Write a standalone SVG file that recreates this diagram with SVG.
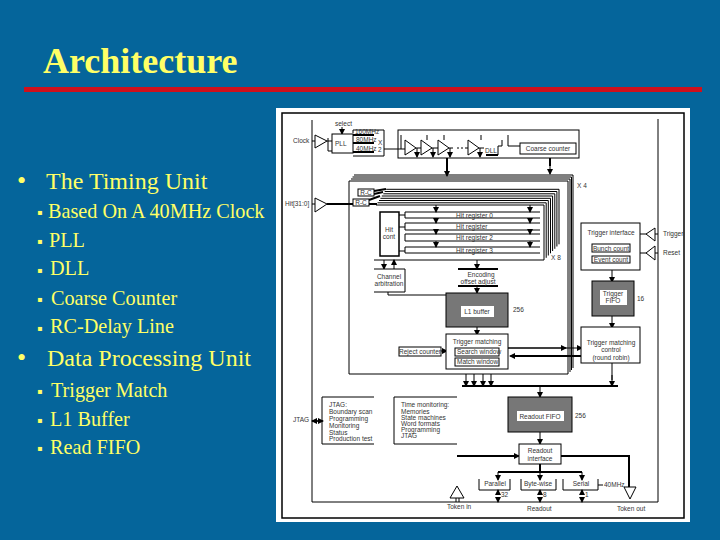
<svg xmlns="http://www.w3.org/2000/svg" width="720" height="540" viewBox="0 0 720 540">
<defs>
<marker id="a" markerUnits="userSpaceOnUse" markerWidth="6" markerHeight="6" refX="5" refY="3" orient="auto"><path d="M0 0L6 3L0 6Z" fill="#000"/></marker>
<style>
.ti{font-family:"Liberation Serif",serif;fill:#ffff66}
.h{font-size:24px}
.s{font-size:20.200px}
.m{font-size:8px;fill:#ffff66;font-family:"DejaVu Sans",sans-serif}
.t{font-family:"Liberation Sans",sans-serif;font-size:6.5px;fill:#333}
.c{text-anchor:middle}
.l{fill:none;stroke:#000;stroke-width:1}
.k{fill:none;stroke:#000;stroke-width:2}
.b{fill:#fff;stroke:#000;stroke-width:1}
.g{fill:#777;stroke:#000;stroke-width:1}
.w{fill:#fff}
.ar{fill:none;stroke:#000;stroke-width:1;marker-end:url(#a)}
</style>
</defs>
<rect width="720" height="540" fill="#05659b"/>
<text class="ti" x="43" y="73" font-size="36" font-weight="bold">Architecture</text>
<rect x="24" y="87" width="678" height="5" fill="#d0101c"/>
<g id="bullets">
<text class="ti" x="17" y="189" font-size="26">•</text>
<text class="ti h" x="46" y="189">The Timing Unit</text>
<text class="m" x="37" y="215">▪</text><text class="ti s" x="48" y="218">Based On A 40MHz Clock</text>
<text class="m" x="37" y="244">▪</text><text class="ti s" x="49" y="247">PLL</text>
<text class="m" x="37" y="273">▪</text><text class="ti s" x="50" y="275">DLL</text>
<text class="m" x="37" y="302">▪</text><text class="ti s" x="51" y="305">Coarse Counter</text>
<text class="m" x="37" y="331">▪</text><text class="ti s" x="50" y="333">RC-Delay Line</text>
<text class="ti" x="17" y="366" font-size="26">•</text>
<text class="ti h" x="47" y="366">Data Processing Unit</text>
<text class="m" x="37" y="394">▪</text><text class="ti s" x="51" y="397">Trigger Match</text>
<text class="m" x="37" y="423">▪</text><text class="ti s" x="50" y="426">L1 Buffer</text>
<text class="m" x="37" y="451">▪</text><text class="ti s" x="50" y="454">Read FIFO</text>
</g>
<rect x="276" y="108" width="414" height="414" fill="#fff"/>
<rect x="282" y="113" width="402" height="405" fill="#fff" stroke="#000" stroke-width="1.5"/>
<g id="connectors">
<path class="l" d="M312 120V502H658V119"/>
<path class="l" d="M312 141H315M327 141H332M384 149H398M353 133V130H384V156H353M328 138V151H332"/>
<path class="l" d="M312 204H315"/>
<path class="k" d="M327 204H353"/>
<path class="k" d="M369 204H377M374 191L386 189M374 194L383 192M369 200L380 196"/>
<path class="l" d="M374 260H544M399 215H405M399 227H405M399 251H405"/>
<path class="k" d="M447 158V174"/><path class="ar" d="M447 166V176"/>
<path class="k" d="M550 158V166"/><path class="ar" d="M550 158V174"/>
<path class="ar" d="M436 205V212"/><path class="ar" d="M436 218V223"/><path class="ar" d="M436 230V234"/><path class="ar" d="M436 241V247"/>
<path class="ar" d="M530 205V212"/><path class="ar" d="M530 218V223"/><path class="ar" d="M530 230V234"/><path class="ar" d="M530 241V247"/>
<path class="ar" d="M384 260V269"/><path class="ar" d="M394 269V260"/><path class="ar" d="M477 260V269"/>
<path class="ar" d="M477 286V293"/><path class="ar" d="M477 327V335"/>
<path class="l" d="M388 292V295H446"/>
<path class="ar" d="M441 351H447"/>
<path class="ar" d="M508 348H582"/><path class="ar" d="M508 348H566"/>
<path class="k" d="M581 356H512"/><path class="ar" d="M581 356H510"/>
<path class="ar" d="M612 270V282"/><path class="ar" d="M612 316V328"/>
<path class="l" d="M640 234H646M655 234H658M640 253H646M655 253H658M612 363V380"/>
<path class="k" d="M462 386H618"/>
<path class="ar" d="M466 374V386"/><path class="ar" d="M474 374V386"/><path class="ar" d="M483 374V386"/><path class="ar" d="M491 374V386"/><path class="ar" d="M612 375V386"/>
<path class="ar" d="M540 386V397"/><path class="ar" d="M540 432V444"/>
<path class="k" d="M457 456H515M561 456H629V487"/><path class="ar" d="M510 456H519"/>
<path class="k" d="M540 464V472M498 472H582"/>
<path class="ar" d="M498 472V480"/><path class="ar" d="M540 472V480"/><path class="ar" d="M582 472V480"/>
<path class="ar" d="M498 495V490"/><path class="ar" d="M498 497V502"/><path class="ar" d="M540 495V490"/><path class="ar" d="M540 497V502"/><path class="ar" d="M582 495V490"/><path class="ar" d="M582 497V502"/>
<path class="l" d="M598 485H603M312 421H322"/><path class="ar" d="M318 421H312"/><path class="ar" d="M316 421H323"/>
<path class="l" d="M456 498V502M459 498V502"/>
<path class="ar" d="M342 127V134"/>
</g>
<g id="stack-x4">
<path class="l" d="M349 374V181H568V374H349"/>
<path class="l" d="M351 179H570V372"/><path class="l" d="M352.500 177H571.500V370"/><path class="l" d="M354 175H573V368"/>
<text class="t" x="577" y="188">X 4</text>
</g>
<g id="stack-x8">
<path class="l" d="M376 205H544V260"/><path class="l" d="M377.500 202.800H546.200V257.800"/><path class="l" d="M379 200.500H548.300V255.500"/><path class="l" d="M380.400 198.300H550.500V253.300"/><path class="l" d="M381.800 196H552.600V251"/><path class="l" d="M383.300 193.800H554.800V248.800"/><path class="l" d="M384.700 191.500H556.900V246.500"/><path class="l" d="M386.200 189.300H559V244.300"/>
<text class="t" x="551" y="260">X 8</text>
</g>
<g id="clock-in"><path class="b" d="M315 135L327 141L315 148Z"/><text class="t" x="293" y="143">Clock</text></g>
<g id="hit-in"><path class="b" d="M315 198L327 204L315 212Z"/><text class="t" x="285" y="206">Hit[31:0]</text></g>
<g id="pll"><rect class="b" x="332" y="134" width="21" height="19"/><text class="t" x="335" y="146" font-size="8">PLL</text>
<text class="t" x="335" y="126" font-size="5">select</text>
<path class="k" d="M353 135H374M353 143H374M353 152H374"/>
<text class="t" x="355" y="133.500" font-size="5">160MHz</text><text class="t" x="356" y="141.500" font-size="5">80MHz</text><text class="t" x="356" y="150.500" font-size="5">40MHz</text>
<text class="t" x="378" y="145">X</text><text class="t" x="378" y="152">2</text></g>
<g id="delay"><rect class="l" x="398" y="130" width="181" height="28"/>
<path class="b" d="M405 140L416 148L405 155Z"/><path class="b" d="M421 140L432 148L421 155Z"/><path class="b" d="M438 140L449 148L438 155Z"/><path class="b" d="M468 140L479 148L468 155Z"/>
<path class="l" d="M398 149H405M416 148H421M432 148H438M449 148H453M457 148H459M461 148H463M465 148H468M479 148H484"/>
<path class="ar" d="M417 148V157"/><path class="ar" d="M433 148V157"/><path class="ar" d="M450 148V157"/><path class="ar" d="M480 148V157"/>
<path class="l" d="M401 135V149M427 140V135M444 140V135M481 140V135"/>
<text class="t" x="485" y="153" font-size="9">DLL</text>
<path class="k" d="M486 155H498"/><path class="l" d="M498 155V146H502V140M508 135V146H520"/>
</g>
<g id="coarse"><rect class="l" x="520" y="143" width="56" height="11"/><text class="t c" x="548" y="151">Coarse counter</text></g>
<g id="rc"><rect class="b" x="358" y="189" width="16" height="7"/><text class="t c" x="366" y="195">R-C</text></g>
<g id="rc2"><rect class="b" x="353" y="199" width="16" height="7"/><text class="t c" x="361" y="205">R-C</text></g>
<g id="hit-count"><rect x="380" y="212" width="19" height="44" fill="#fff" stroke="#000" stroke-width="1.500"/><text class="t c" x="389" y="232">Hit</text><text class="t c" x="389" y="239">cont</text></g>
<g id="reg0"><path class="l" d="M540 212H405V218H540"/><text class="t" x="456" y="218">Hit register 0</text></g>
<g id="reg1"><path class="l" d="M540 223H405V230H540"/><text class="t" x="456" y="229">Hit register</text></g>
<g id="reg2"><path class="l" d="M540 234H405V241H540"/><text class="t" x="456" y="240">Hit register 2</text></g>
<g id="reg3"><path class="l" d="M540 247H405V253H540"/><text class="t" x="456" y="253">Hit register 3</text></g>
<g id="channel"><path class="b" d="M374 269H405V292H374"/><text class="t c" x="389" y="279">Channel</text><text class="t c" x="389" y="286">arbitration</text></g>
<g id="encoding"><path class="k" d="M458 269H498M458 286H498" stroke-width="1.500"/><text class="t c" x="481" y="277">Encoding</text><text class="t c" x="478" y="284">offset adjust</text></g>
<g id="l1"><rect class="g" x="446" y="293" width="62" height="34"/><rect class="w" x="461" y="306" width="33" height="11"/><text class="t c" x="477" y="314">L1 buffer</text><text class="t" x="513" y="312">256</text></g>
<g id="hit-control"><rect class="b" x="446" y="334" width="62" height="35"/><text class="t c" x="477" y="344">Trigger matching</text>
<rect class="b" x="455" y="348" width="44" height="8"/><text class="t" x="457" y="354">Search window</text><rect class="b" x="455" y="358" width="44" height="8"/><text class="t" x="457" y="364">Match window</text></g>
<g id="reject"><rect class="b" x="399" y="347" width="42" height="9"/><text class="t c" x="420" y="354">Reject counter</text></g>
<g id="trig-if"><rect class="b" x="581" y="223" width="59" height="47"/><text class="t c" x="611" y="235">Trigger interface</text>
<rect class="b" x="592" y="244" width="38" height="8"/><text class="t c" x="611" y="250.500">Bunch count</text>
<rect class="b" x="592" y="256" width="38" height="7"/><text class="t c" x="611" y="262">Event count</text></g>
<g id="trig-in"><path class="b" d="M655 228L646 234L655 241Z"/><text class="t" x="663" y="236">Trigger</text></g>
<g id="reset-in"><path class="b" d="M655 246L646 253L655 260Z"/><text class="t" x="663" y="255">Reset</text></g>
<g id="trig-fifo"><rect class="g" x="592" y="281" width="42" height="35"/><rect class="w" x="600" y="290" width="27" height="15"/><text class="t c" x="613" y="296" font-size="5.500">Trigger</text><text class="t c" x="613" y="303" font-size="7">FIFO</text><text class="t" x="637" y="301">16</text></g>
<g id="trig-match"><rect class="b" x="581" y="327" width="59" height="36"/><text class="t c" x="611" y="345">Trigger matching</text><text class="t c" x="611" y="352">control</text><text class="t c" x="611" y="360">(round robin)</text></g>
<g id="jtag-box"><path class="l" d="M374 397H322V444H374"/><text class="t" x="329" y="407" font-size="7.500">JTAG:</text><text class="t" x="329" y="414">Boundary scan</text><text class="t" x="329" y="421">Programming</text><text class="t" x="329" y="428">Monitoring</text><text class="t" x="329" y="435">Status</text><text class="t" x="329" y="441">Production test</text></g>
<text class="t" x="293" y="422" id="jtag-label" font-size="7">JTAG</text>
<g id="time-box"><path class="l" d="M457 397H394V444H457"/><text class="t" x="401" y="407">Time monitoring:</text><text class="t" x="401" y="414">Memories</text><text class="t" x="401" y="420">State machines</text><text class="t" x="401" y="426">Word formats</text><text class="t" x="401" y="432">Programming</text><text class="t" x="401" y="438">JTAG</text></g>
<g id="read-fifo"><rect class="g" x="508" y="397" width="64" height="35"/><rect class="w" x="517" y="411" width="47" height="10"/><text class="t c" x="540" y="419">Readout FIFO</text><text class="t" x="575" y="418">256</text></g>
<g id="read-if"><rect class="b" x="519" y="444" width="42" height="20"/><text class="t c" x="540" y="453">Readout</text><text class="t c" x="540" y="461">interface</text></g>
<g id="parallel"><path class="l" d="M479 479V490H510V479"/><text class="t c" x="495" y="486">Parallel</text><text class="t" x="501" y="497" font-size="5">32</text></g>
<g id="byte"><path class="l" d="M521 479V490H556V479"/><text class="t c" x="538" y="486">Byte-wise</text><text class="t" x="543" y="497" font-size="5">8</text></g>
<g id="serial"><path class="l" d="M563 479V490H598V479"/><text class="t c" x="581" y="486">Serial</text><text class="t" x="585" y="497" font-size="5">1</text><text class="t" x="604" y="487" font-size="5.500">40MHz</text></g>
<g id="token-in"><path class="b" d="M450 498L457 486L464 498Z"/><text class="t" x="447" y="509">Token in</text></g>
<g id="token-out"><path class="b" d="M624 487H636L630 499Z"/><text class="t" x="617" y="511">Token out</text></g>
<text class="t" x="527" y="511" id="readout-label">Readout</text>
</svg>
